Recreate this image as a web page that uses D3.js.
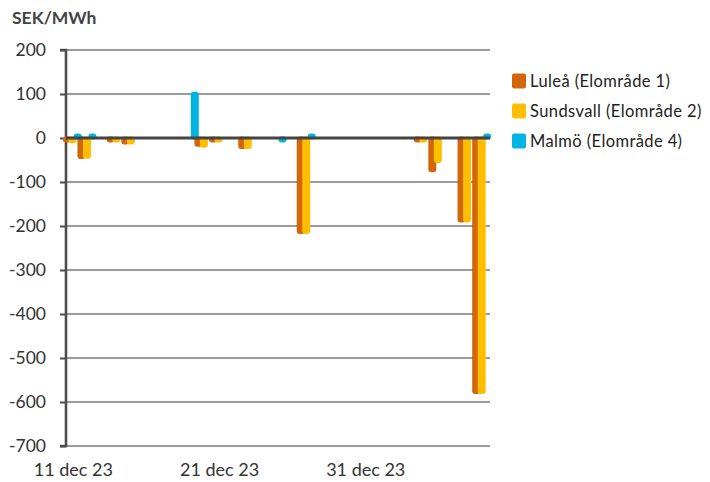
<!DOCTYPE html>
<html><head><meta charset="utf-8">
<script src="https://cdn.jsdelivr.net/npm/d3@7"></script>
<style>body{margin:0;background:#fff;} svg{display:block;font-family:Lato,"Liberation Sans",sans-serif;}</style>
</head><body>
<svg id="c" width="710" height="482"></svg>
<script>
const dates = ["2023-12-11","2023-12-12","2023-12-13","2023-12-14","2023-12-15","2023-12-16","2023-12-17","2023-12-18","2023-12-19","2023-12-20","2023-12-21","2023-12-22","2023-12-23","2023-12-24","2023-12-25","2023-12-26","2023-12-27","2023-12-28","2023-12-29","2023-12-30","2023-12-31","2024-01-01","2024-01-02","2024-01-03","2024-01-04","2024-01-05","2024-01-06","2024-01-07","2024-01-08"];
const lulea     = [-10,-48,0,-10,-15,0,0,0,0,-20,-7,0,-25,0,0,0,-218,0,0,0,0,0,0,0,-10,-78,0,-192,-582];
const sundsvall = [-12,-47,0,-10,-15,0,0,0,0,-22,-7,0,-25,0,0,0,-218,0,0,0,0,0,0,0,-10,-57,0,-192,-582];
const malmo     = [7,7,0,0,0,0,0,0,105,0,0,0,0,0,-10,0,7,0,0,0,0,0,0,0,0,0,0,0,7];
const seriesNames = ["Luleå (Elområde 1)","Sundsvall (Elområde 2)","Malmö (Elområde 4)"];
const colors = ["#D3650B","#FFBE00","#00B4E2"];
const yTicks = [200,100,0,-100,-200,-300,-400,-500,-600,-700];
const xLabelDates = ["2023-12-11","2023-12-21","2023-12-31"];
const xLabels = ["11 dec 23","21 dec 23","31 dec 23"];
const unitLabel = "SEK/MWh";

const svg = d3.select("#c");
const L=66,R=490,T=50,B=446;
const x = d3.scaleBand().domain(dates).range([L,R]).padding(0);
const y = d3.scaleLinear().domain([-700,200]).range([B,T]);
const xs = d3.scalePoint().domain(seriesNames).range([-6.5,4.5]);
const bw = 8;

// gridlines
svg.append("g").selectAll("line").data(yTicks.filter(d=>d!==0)).join("line")
  .attr("x1",L).attr("x2",R).attr("y1",d=>y(d)).attr("y2",d=>y(d))
  .attr("stroke","#7a7a7a").attr("stroke-width",1.6);

// y axis
const yAxis = d3.axisLeft(y).tickValues(yTicks).tickSize(6).tickPadding(14).tickFormat(d=>String(d));
const ga = svg.append("g").attr("transform",`translate(${L},0)`).call(yAxis);
ga.select(".domain").attr("stroke","#4d4d4d").attr("stroke-width",2.6).attr("d",`M-6,${T}H0V${B}H-6`);
ga.selectAll(".tick line").attr("stroke","#4d4d4d").attr("stroke-width",2);
ga.selectAll(".tick text").attr("font-size",17.5).attr("fill","#333").attr("font-family","Lato");

// bars
const series=[lulea,sundsvall,malmo];
const hOf = v => Math.max(Math.abs(y(v)-y(0)),4.5) + 1.5;
series.forEach((vals,si)=>{
  svg.append("g").selectAll("rect").data(vals.map((v,i)=>({v,d:dates[i]})).filter(o=>o.v!==0)).join("rect")
    .attr("x",o=>x(o.d)+x.bandwidth()/2+xs(seriesNames[si])-bw/2)
    .attr("width",bw)
    .attr("y",o=>o.v>0 ? y(0)+1.5-hOf(o.v) : y(0)-1.5)
    .attr("height",o=>hOf(o.v))
    .attr("rx",3)
    .attr("fill",colors[si]);
});

// zero line
svg.append("line").attr("x1",L).attr("x2",R).attr("y1",y(0)).attr("y2",y(0))
  .attr("stroke","#444").attr("stroke-width",3);

// x labels
svg.append("g").selectAll("text").data(xLabelDates).join("text")
  .attr("x",d=>x(d)+x.bandwidth()/2).attr("y",476).attr("text-anchor","middle")
  .attr("font-size",18).attr("fill","#333").text((d,i)=>xLabels[i]);

// title
svg.append("text").attr("x",12).attr("y",24).attr("font-size",17.5).attr("font-weight","bold").attr("fill","#444").text(unitLabel);

// legend
const lg = svg.append("g");
seriesNames.forEach((n,i)=>{
  const cy = 81 + i*30;
  lg.append("rect").attr("x",512).attr("y",cy-7.5).attr("width",14).attr("height",15).attr("rx",2).attr("fill",colors[i]);
  lg.append("text").attr("x",530).attr("y",cy+6).attr("font-size",16.5).attr("letter-spacing",0.4).attr("fill","#222").text(n);
});
</script>
</body></html>
